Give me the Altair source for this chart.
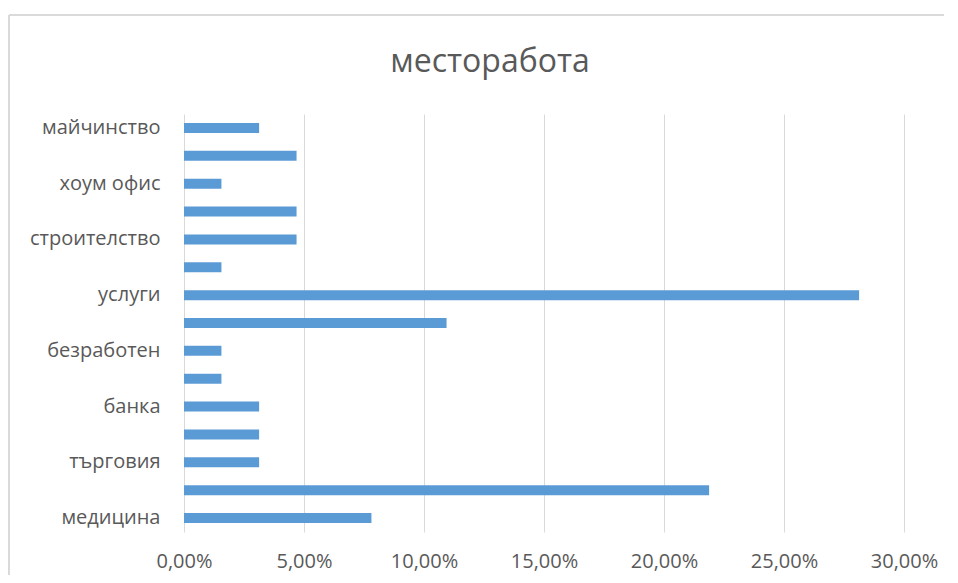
import altair as alt
import pandas as pd

# bottom to top
labels = ["медицина", "", "търговия", "", "банка", "", "безработен", "",
          "услуги", "", "строителство", "", "хоум офис", "", "майчинство"]
values = [0.0781, 0.2188, 0.0313, 0.0313, 0.0313, 0.0156, 0.0156, 0.1094,
          0.2813, 0.0156, 0.0469, 0.0469, 0.0156, 0.0469, 0.0313]
x_ticks = [0, 0.05, 0.10, 0.15, 0.20, 0.25, 0.30]
title_text = "месторабота"

df = pd.DataFrame({"pos": list(range(len(labels))), "label": labels, "value": values})

label_array = "[" + ",".join("'" + l + "'" for l in labels) + "]"

FONT = "Open Sans"
TXT = "#595959"

bars = alt.Chart(df).mark_bar(size=10, color="#5b9bd5").encode(
    x=alt.X("value:Q",
            scale=alt.Scale(domain=[0, 0.30], nice=False),
            axis=alt.Axis(values=x_ticks, title=None, grid=True, gridColor="#d9d9d9",
                          domain=False, ticks=False, labelPadding=19, labelFlush=False,
                          labelExpr="replace(format(datum.value, '.2%'), '.', ',')")),
    y=alt.Y("pos:O", sort="descending",
            axis=alt.Axis(title=None, domain=False, ticks=False, labelPadding=24,
                          labelExpr=label_array + "[datum.value]")),
)

border = alt.Chart(df).mark_rect(fill=None, stroke="#d9d9d9", strokeWidth=1).encode(
    x=alt.value(-175), x2=alt.value(900), y=alt.value(-99), y2=alt.value(700)
)

chart = alt.layer(border, bars).properties(
    width=720,
    height=418,
    title=alt.Title(title_text, fontSize=32, font=FONT, color=TXT, fontWeight="normal",
                    anchor="middle", dx=-54, offset=-89, baseline="alphabetic"),
    padding={"left": 176, "top": 106, "right": 40, "bottom": 43},
    autosize=alt.AutoSizeParams(type="none"),
).configure_axis(
    labelFont=FONT, labelFontSize=20, labelColor=TXT,
).configure_view(stroke=None)

chart.save("out.html", embed_options={"renderer": "svg", "actions": False})
